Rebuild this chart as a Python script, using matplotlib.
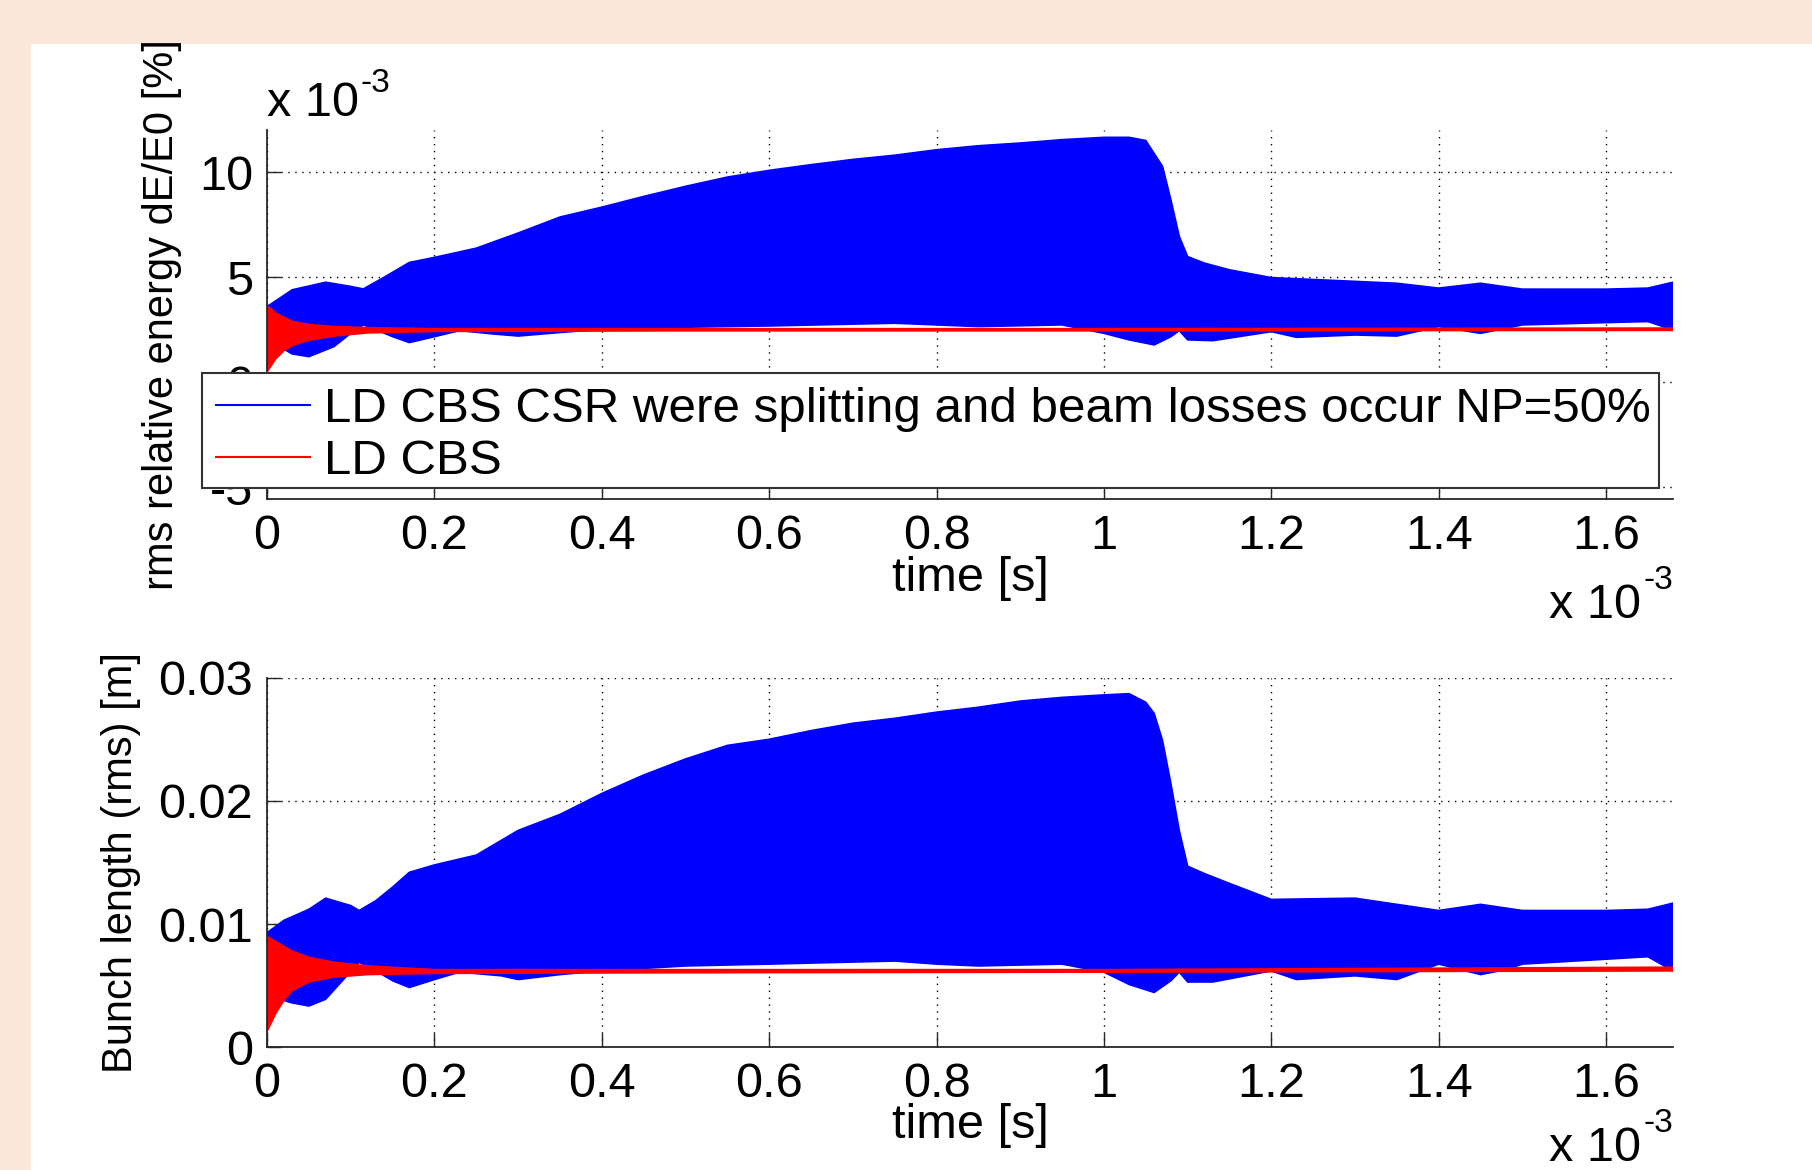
import numpy as np
import matplotlib
matplotlib.use("Agg")
import matplotlib.pyplot as plt
from matplotlib.lines import Line2D
from matplotlib.patches import Rectangle

plt.rcParams['font.family'] = ['Liberation Sans', 'DejaVu Sans']

# time axis in units of 1e-3 s (as shown on the axis)
# --- top panel: rms relative energy dE/E0, units of 1e-3 %
t_e_up = [0, 0.03, 0.07, 0.10, 0.115, 0.14, 0.17, 0.20, 0.25, 0.30, 0.35, 0.40,
          0.45, 0.50, 0.55, 0.60, 0.65, 0.70, 0.75, 0.80, 0.85, 0.90, 0.95, 1.00,
          1.03, 1.05, 1.07, 1.08, 1.09, 1.10, 1.12, 1.15, 1.20, 1.30, 1.35, 1.40,
          1.45, 1.50, 1.60, 1.65, 1.68]
e_up = [3.6, 4.4, 4.76, 4.56, 4.44, 5.0, 5.7, 5.94, 6.38, 7.1, 7.86, 8.33,
        8.84, 9.32, 9.76, 10.08, 10.35, 10.6, 10.8, 11.06, 11.25, 11.38, 11.54, 11.65,
        11.65, 11.5, 10.27, 8.68, 6.94, 5.98, 5.67, 5.35, 4.98, 4.8, 4.71, 4.48,
        4.71, 4.43, 4.43, 4.48, 4.76]
t_e_lo = [0, 0.01, 0.03, 0.05, 0.08, 0.10, 0.115, 0.13, 0.15, 0.17, 0.20, 0.23,
          0.27, 0.30, 0.35, 0.40, 0.50, 0.60, 0.75, 0.80, 0.85, 0.95, 1.00, 1.03,
          1.06, 1.08, 1.09, 1.10, 1.13, 1.20, 1.23, 1.30, 1.35, 1.40, 1.45, 1.48,
          1.50, 1.60, 1.65, 1.68]
e_lo = [2.8, 1.8, 1.35, 1.22, 1.7, 2.33, 2.73, 2.5, 2.17, 1.89, 2.17, 2.46,
        2.3, 2.2, 2.37, 2.52, 2.62, 2.68, 2.81, 2.73, 2.65, 2.73, 2.33, 2.02,
        1.78, 2.17, 2.46, 2.02, 1.98, 2.41, 2.14, 2.25, 2.2, 2.65, 2.33, 2.57,
        2.73, 2.84, 2.89, 2.49]
t_red = [0, 0.005, 0.01, 0.02, 0.03, 0.05, 0.08, 0.12, 0.20, 0.50, 1.00, 1.68]
e_red_hi = [3.6, 3.5, 3.3, 3.1, 2.9, 2.75, 2.65, 2.6, 2.55, 2.55, 2.55, 2.58]
e_red_lo = [0.5, 0.8, 1.1, 1.5, 1.75, 2.0, 2.2, 2.35, 2.42, 2.45, 2.45, 2.47]

# --- bottom panel: bunch length (rms) in m
t_b_up = [0, 0.02, 0.05, 0.07, 0.10, 0.11, 0.13, 0.15, 0.17, 0.20, 0.25, 0.30,
          0.35, 0.40, 0.45, 0.50, 0.55, 0.60, 0.65, 0.70, 0.75, 0.80, 0.85, 0.90,
          0.95, 1.00, 1.03, 1.05, 1.06, 1.07, 1.08, 1.09, 1.10, 1.12, 1.15, 1.20,
          1.30, 1.35, 1.40, 1.45, 1.50, 1.60, 1.65, 1.68]
b_up = [0.0093, 0.0103, 0.0112, 0.0121, 0.0115, 0.0111, 0.0119, 0.0130, 0.0142,
        0.0148, 0.0156, 0.0176, 0.0189, 0.0206, 0.0221, 0.0234, 0.0245, 0.0250,
        0.0257, 0.0263, 0.0267, 0.0272, 0.0276, 0.0281, 0.0284, 0.0286, 0.0287,
        0.0280, 0.0271, 0.0249, 0.0214, 0.0176, 0.0147, 0.0141, 0.0133, 0.0120,
        0.0121, 0.0116, 0.0111, 0.0116, 0.0111, 0.0111, 0.0112, 0.0117]
t_b_lo = [0, 0.01, 0.03, 0.05, 0.07, 0.09, 0.11, 0.13, 0.15, 0.17, 0.20, 0.23,
          0.28, 0.30, 0.35, 0.40, 0.50, 0.60, 0.75, 0.80, 0.85, 0.95, 1.00, 1.03,
          1.06, 1.08, 1.09, 1.10, 1.13, 1.20, 1.23, 1.30, 1.35, 1.40, 1.45, 1.48,
          1.50, 1.60, 1.65, 1.68]
b_lo = [0.0075, 0.0040, 0.0036, 0.00335, 0.0039, 0.0054, 0.0069, 0.0062, 0.0054,
        0.00485, 0.0055, 0.0061, 0.0058, 0.0055, 0.0059, 0.0062, 0.0066, 0.00675,
        0.0070, 0.00675, 0.0066, 0.00675, 0.0061, 0.0051, 0.00445, 0.0054, 0.0061,
        0.0053, 0.0053, 0.0062, 0.0055, 0.0058, 0.0055, 0.00675, 0.0059, 0.0063,
        0.00675, 0.00715, 0.00735, 0.0062]
b_red_hi = [0.0090, 0.0088, 0.0086, 0.0082, 0.0078, 0.0073, 0.0069, 0.0066,
            0.0063, 0.0063, 0.0063, 0.0065]
b_red_lo = [0.0013, 0.0020, 0.0027, 0.0038, 0.0046, 0.0053, 0.0057, 0.0059,
            0.0060, 0.00605, 0.0061, 0.0062]

legend_labels = ['LD CBS CSR were splitting and beam losses occur NP=50%', 'LD CBS']
x_ticks = [0, 0.2, 0.4, 0.6, 0.8, 1.0, 1.2, 1.4, 1.6]
x_ticklabels = ['0', '0.2', '0.4', '0.6', '0.8', '1', '1.2', '1.4', '1.6']
e_ticks = [-5, 0, 5, 10]
b_ticks = [0, 0.01, 0.02, 0.03]
b_ticklabels = ['0', '0.01', '0.02', '0.03']

FS = 35
BLUE = (0, 0, 1)
RED = (1, 0, 0)

fig = plt.figure(figsize=(18.12, 11.70), dpi=100, facecolor='#FBE8DA')
fig.patches.append(Rectangle((31 / 1812, 0), 1, 1 - 44 / 1170, transform=fig.transFigure,
                             facecolor='white', edgecolor='none', zorder=-10))

ax1 = fig.add_axes([0.1474, 0.5735, 0.7759, 0.3154])
ax2 = fig.add_axes([0.1474, 0.1049, 0.7759, 0.3159])


def band(ax, tu, yu, tl, yl, color):
    xs = np.concatenate([tu, np.array(tl)[::-1]])
    ys = np.concatenate([yu, np.array(yl)[::-1]])
    ax.fill(xs, ys, color=color, lw=1.2, zorder=2)


band(ax1, t_e_up, e_up, t_e_lo, e_lo, BLUE)
band(ax1, t_red, e_red_hi, t_red, e_red_lo, RED)
band(ax2, t_b_up, b_up, t_b_lo, b_lo, BLUE)
band(ax2, t_red, b_red_hi, t_red, b_red_lo, RED)

for ax in (ax1, ax2):
    ax.set_xlim(0, 1.68)
    ax.set_xticks(x_ticks)
    ax.set_xticklabels(x_ticklabels)
    ax.set_axisbelow(True)
    ax.grid(True, color='k', linestyle=(0, (1, 4)), lw=1.0)
    for s in ('top', 'right'):
        ax.spines[s].set_visible(False)
    for s in ('left', 'bottom'):
        ax.spines[s].set_color('#262626')
        ax.spines[s].set_linewidth(1.3)
    ax.tick_params(direction='in', length=10, width=1.0, labelsize=FS,
                   top=False, right=False, colors='#262626', labelcolor='k')
    ax.tick_params(axis='x', pad=10.5)
    ax.tick_params(axis='y', pad=10)

ax1.set_ylim(-5.55, 12)
ax1.set_yticks(e_ticks)
ax1.set_yticklabels([str(v) for v in e_ticks])
ax2.set_ylim(0, 0.03)
ax2.set_yticks(b_ticks)
ax2.set_yticklabels(b_ticklabels)

ax1.text(-0.0747, 0.5, 'rms relative energy dE/E0 [%]', rotation=90, ha='center',
         va='center', fontsize=30, transform=ax1.transAxes)
ax2.text(-0.1038, 0.5, 'Bunch length (rms) [m]', rotation=90, ha='center',
         va='center', fontsize=30, transform=ax2.transAxes)

ax1.text(0.5, -0.2155, 'time [s]', ha='center', va='center', fontsize=FS, transform=ax1.transAxes)
ax2.text(0.5, -0.2125, 'time [s]', ha='center', va='center', fontsize=FS, transform=ax2.transAxes)

# multiplier labels
ax1.text(0, 1.039, 'x 10', ha='left', va='baseline', fontsize=FS, transform=ax1.transAxes)
ax1.text(0.0665, 1.102, '-3', ha='left', va='baseline', fontsize=24, transform=ax1.transAxes)
for ax, yb in ((ax1, -0.3225), (ax2, -0.3076)):
    ax.text(0.977, yb, 'x 10', ha='right', va='baseline', fontsize=FS, transform=ax.transAxes)
    ax.text(1.0, yb + 0.078, '-3', ha='right', va='baseline', fontsize=24, transform=ax.transAxes)

# legend box drawn separately so its padding matches the original
fig.patches.append(Rectangle((0.1115, 1 - 488 / 1170), 0.8041, (488 - 373) / 1170,
                             transform=fig.transFigure, facecolor='white',
                             edgecolor='#333333', lw=1.5, zorder=4))
handles = [Line2D([], [], color=BLUE, lw=1.5), Line2D([], [], color=RED, lw=1.5)]
leg = fig.legend(handles, legend_labels, loc='upper left',
                 bbox_to_anchor=(0.1115, 0.6812, 0.8041, 0.0), mode='expand',
                 borderaxespad=0, fontsize=35.5, frameon=False, handlelength=1.9,
                 handletextpad=0.3, labelspacing=0.15, borderpad=0.28)
leg.set_zorder(5)

fig.savefig('out.png', dpi=100, facecolor=fig.get_facecolor())
